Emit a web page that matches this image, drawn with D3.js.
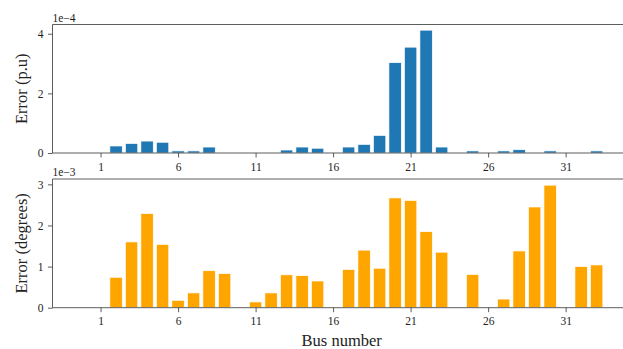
<!DOCTYPE html>
<html>
<head>
<meta charset="utf-8">
<script src="https://cdn.jsdelivr.net/npm/d3@7"></script>
<style>
    body { margin: 0; background: #fff; }
    svg { display: block; font-family: "Liberation Serif", "DejaVu Serif", serif; }
</style>
</head>
<body>
<div id="chart"></div>
<script>
// bus numbers 1..33
const buses = d3.range(1, 34);
// voltage magnitude error, units of 1e-4 p.u.
const magError = [0, 0.235, 0.32, 0.40, 0.36, 0.07, 0.07, 0.20, 0, 0,
    0, 0, 0.10, 0.20, 0.16, 0, 0.20, 0.29, 0.59, 3.03,
    3.55, 4.12, 0.20, 0, 0.07, 0, 0.07, 0.11, 0, 0.07,
    0, 0, 0.07];
// voltage angle error, units of 1e-3 degrees
const angError = [0, 0.74, 1.60, 2.29, 1.54, 0.18, 0.36, 0.90, 0.83, 0,
    0.14, 0.36, 0.80, 0.78, 0.65, 0, 0.93, 1.40, 0.96, 2.67,
    2.61, 1.85, 1.35, 0, 0.81, 0, 0.21, 1.38, 2.45, 2.98,
    0, 1.00, 1.04];
const xTicks = [1, 6, 11, 16, 21, 26, 31];
const magTicks = [0, 2, 4];
const angTicks = [0, 1, 2, 3];

const width = 623, height = 349;
const svg = d3.select("#chart").append("svg")
    .attr("width", width)
    .attr("height", height);

const x = d3.scaleLinear().domain([-2.1, 34.7]).range([52.5, 623]);
const barW = x(0.8) - x(0);

function panel(values, ticks, yMax, top, bottom, color, yLabel, expo) {
    const y = d3.scaleLinear().domain([0, yMax]).range([bottom, top]);
    const g = svg.append("g");

    g.selectAll("rect")
        .data(values)
        .enter()
        .append("rect")
        .attr("x", (d, i) => x(buses[i]) - barW / 2)
        .attr("y", d => y(d))
        .attr("width", barW)
        .attr("height", d => y(0) - y(d))
        .attr("fill", color)
        .attr("stroke", "#fff")
        .attr("stroke-width", 0.7);

    const xa = g.append("g")
        .attr("transform", `translate(0,${bottom})`)
        .call(d3.axisBottom(x).tickValues(xTicks).tickSize(4.5).tickPadding(5).tickFormat(d3.format("d")));
    const ya = g.append("g")
        .attr("transform", `translate(${x.range()[0]},0)`)
        .call(d3.axisLeft(y).tickValues(ticks).tickSize(4.5).tickPadding(4.5).tickFormat(d3.format("d")));
    [xa, ya].forEach(a => {
        a.attr("font-family", null);
        a.select(".domain").remove();
        a.selectAll("line").attr("stroke", "#333").attr("stroke-width", 0.8);
        a.selectAll("text").attr("font-family", "Liberation Serif").attr("font-size", 11.5).attr("fill", "#222");
    });

    // spines: left, top, bottom
    g.append("path")
        .attr("d", `M${width + 2},${top}H${x.range()[0]}V${bottom}H${width + 2}`)
        .attr("fill", "none")
        .attr("stroke", "#333")
        .attr("stroke-width", 0.8);

    g.append("text")
        .attr("x", x.range()[0])
        .attr("y", top - 3)
        .attr("font-size", 11.5)
        .attr("fill", "#222")
        .text(expo);

    g.append("text")
        .attr("transform", `translate(27,${(top + bottom) / 2}) rotate(-90)`)
        .attr("text-anchor", "middle")
        .attr("font-size", 16.5)
        .attr("fill", "#222")
        .text(yLabel);
}

panel(magError, magTicks, 4.31, 24.5, 153, "#1f77b4", "Error (p.u)", "1e\u22124");
panel(angError, angTicks, 3.13, 179, 307.7, "#ffa500", "Error (degrees)", "1e\u22123");

svg.append("text")
    .attr("x", 341.7)
    .attr("y", 346)
    .attr("text-anchor", "middle")
    .attr("font-size", 16.5)
    .attr("fill", "#222")
    .text("Bus number");
</script>
</body>
</html>
